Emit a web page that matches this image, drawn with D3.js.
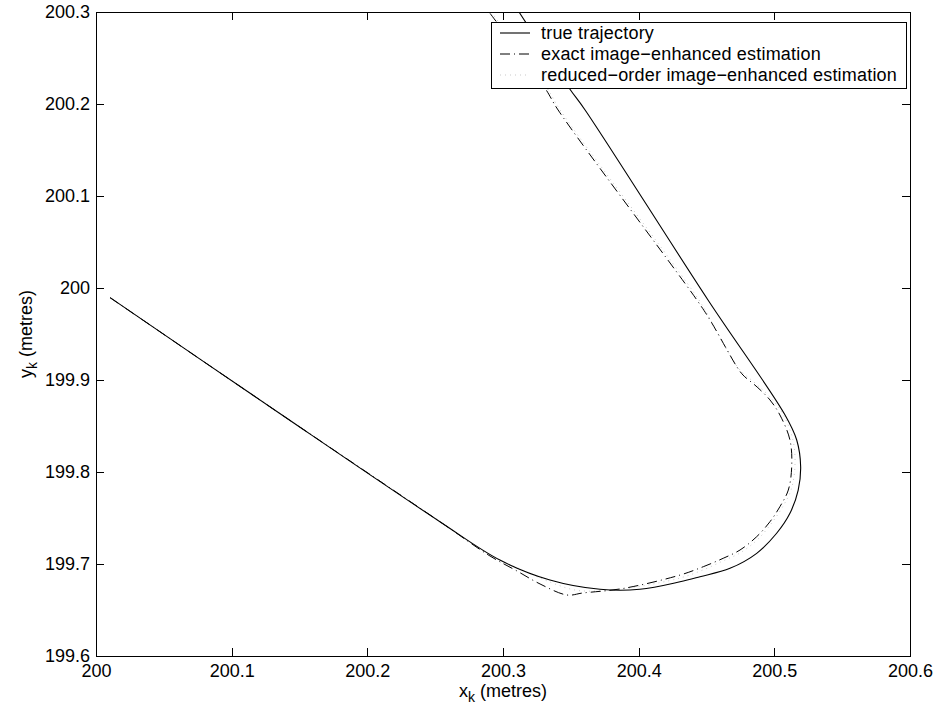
<!DOCTYPE html>
<html>
<head>
<meta charset="utf-8">
<script src="https://cdn.jsdelivr.net/npm/d3@7"></script>
<style>
  body { margin: 0; background: #fff; }
  text { font-family: "Liberation Sans", Arial, Helvetica, sans-serif; }
</style>
</head>
<body>
<div id="chart"></div>
<script>
// Data (metres)
const trueX = [200.0104, 200.1306, 200.2535, 200.2977, 200.3346, 200.3715, 200.4009, 200.4305, 200.4452,
  200.4673, 200.4870, 200.5017, 200.5115, 200.5176, 200.5194, 200.5165, 200.5079, 200.4511, 200.3605,
  200.3487, 200.3118];
const trueY = [199.9895, 199.8685, 199.7460, 199.7043, 199.6826, 199.6725, 199.6725, 199.6807, 199.6862,
  199.6953, 199.7116, 199.7334, 199.7551, 199.7804, 199.8058, 199.8348, 199.8620, 199.9870, 200.1935,
  200.2174, 200.3000];

const exactX = [200.0104, 200.1306, 200.2535, 200.2904, 200.3103, 200.3273, 200.3472, 200.3589, 200.3885,
  200.4305, 200.4477, 200.4623, 200.4747, 200.4870, 200.4968, 200.5041, 200.5103, 200.5128, 200.5115,
  200.5041, 200.4968, 200.4873, 200.4769, 200.4725, 200.4652, 200.4526, 200.4429, 200.3406, 200.3309,
  200.2897];
const exactY = [199.9895, 199.8685, 199.7460, 199.7087, 199.6924, 199.6783, 199.6663, 199.6685, 199.6734,
  199.6880, 199.6971, 199.7062, 199.7152, 199.7297, 199.7460, 199.7623, 199.7804, 199.8058, 199.8348,
  199.8620, 199.8783, 199.8924, 199.9054, 199.9141, 199.9326, 199.9652, 199.9870, 200.1935, 200.2174,
  200.3000];

const reducedX = [200.0104, 200.1306, 200.2535, 200.2904, 200.3125, 200.3346, 200.3531, 200.3715, 200.3936,
  200.4305, 200.4474, 200.4621, 200.4747, 200.4873, 200.4975, 200.5056, 200.5123, 200.5152, 200.5137,
  200.5063, 200.4968, 200.4858, 200.4747, 200.4659, 200.4540, 200.4444, 200.3421, 200.3324, 200.2911];
const reducedY = [199.9895, 199.8685, 199.7460, 199.7098, 199.6946, 199.6804, 199.6717, 199.6707, 199.6739,
  199.6848, 199.6935, 199.7033, 199.7120, 199.7261, 199.7435, 199.7609, 199.7804, 199.8065, 199.8348,
  199.8630, 199.8815, 199.8967, 199.9109, 199.9304, 199.9630, 199.9870, 200.1935, 200.2174, 200.3000];

const xTicks = [200, 200.1, 200.2, 200.3, 200.4, 200.5, 200.6];
const xTickLabels = ["200", "200.1", "200.2", "200.3", "200.4", "200.5", "200.6"];
const yTicks = [199.6, 199.7, 199.8, 199.9, 200, 200.1, 200.2, 200.3];
const yTickLabels = ["199.6", "199.7", "199.8", "199.9", "200", "200.1", "200.2", "200.3"];

const legendLabels = ["true trajectory", "exact image\u2212enhanced estimation", "reduced\u2212order image\u2212enhanced estimation"];

// Layout
const width = 935, height = 711;
const plotLeft = 96, plotTop = 12, plotRight = 910, plotBottom = 656;
const fontSize = 18;

const svg = d3.select("#chart").append("svg")
  .attr("width", width)
  .attr("height", height);

const x = d3.scaleLinear().domain([200, 200.6]).range([plotLeft, plotRight]);
const y = d3.scaleLinear().domain([199.6, 200.3]).range([plotBottom, plotTop]);

svg.append("clipPath").attr("id", "plot-clip")
  .append("rect")
  .attr("x", plotLeft).attr("y", plotTop)
  .attr("width", plotRight - plotLeft).attr("height", plotBottom - plotTop);

// Lines
const line = d3.line()
  .x(d => x(d[0]))
  .y(d => y(d[1]))
  .curve(d3.curveCatmullRom.alpha(0.5));

const series = [
  { pts: d3.zip(reducedX, reducedY), dash: "1,4", stroke: "#bbb", w: 0.8 },
  { pts: d3.zip(exactX, exactY), dash: "10,4,1,4", stroke: "#000", w: 1 },
  { pts: d3.zip(trueX, trueY), dash: null, stroke: "#000", w: 1.1 }
];

svg.append("g").attr("clip-path", "url(#plot-clip)")
  .selectAll("path")
  .data(series)
  .enter()
  .append("path")
  .attr("d", d => line(d.pts))
  .attr("fill", "none")
  .attr("stroke", d => d.stroke)
  .attr("stroke-width", d => d.w)
  .attr("stroke-dasharray", d => d.dash);

// Axes (inward ticks on all four sides)
const tickLen = 8;
function styleAxis(g) {
  g.select(".domain").remove();
  g.selectAll(".tick line").attr("stroke", "#000").attr("shape-rendering", "crispEdges");
  g.selectAll(".tick text").attr("fill", "#000").attr("font-size", fontSize);
}

svg.append("g")
  .attr("transform", `translate(0,${plotBottom})`)
  .call(d3.axisBottom(x).tickValues(xTicks).tickSize(-tickLen).tickPadding(8)
    .tickFormat((d, i) => xTickLabels[i]))
  .call(styleAxis);

svg.append("g")
  .attr("transform", `translate(0,${plotTop})`)
  .call(d3.axisTop(x).tickValues(xTicks).tickSize(-tickLen).tickFormat(""))
  .call(styleAxis);

svg.append("g")
  .attr("transform", `translate(${plotLeft},0)`)
  .call(d3.axisLeft(y).tickValues(yTicks).tickSize(-tickLen).tickPadding(6)
    .tickFormat((d, i) => yTickLabels[i]))
  .call(styleAxis);

svg.append("g")
  .attr("transform", `translate(${plotRight},0)`)
  .call(d3.axisRight(y).tickValues(yTicks).tickSize(-tickLen).tickFormat(""))
  .call(styleAxis);

// Box
svg.append("rect")
  .attr("x", plotLeft).attr("y", plotTop)
  .attr("width", plotRight - plotLeft).attr("height", plotBottom - plotTop)
  .attr("fill", "none")
  .attr("stroke", "#000")
  .attr("stroke-width", 1)
  .attr("shape-rendering", "crispEdges");

// Axis labels
const xl = svg.append("text")
  .attr("x", (plotLeft + plotRight) / 2)
  .attr("y", 697)
  .attr("text-anchor", "middle")
  .attr("font-size", fontSize);
xl.append("tspan").text("x");
xl.append("tspan").attr("dy", 5).attr("font-size", 14).text("k");
xl.append("tspan").attr("dy", -5).text(" (metres)");

const yl = svg.append("text")
  .attr("transform", `translate(32,${(plotTop + plotBottom) / 2}) rotate(-90)`)
  .attr("text-anchor", "middle")
  .attr("font-size", fontSize);
yl.append("tspan").text("y");
yl.append("tspan").attr("dy", 5).attr("font-size", 14).text("k");
yl.append("tspan").attr("dy", -5).text(" (metres)");

// Legend
const legend = svg.append("g");
legend.append("rect")
  .attr("x", 491).attr("y", 22)
  .attr("width", 415).attr("height", 66)
  .attr("fill", "#fff")
  .attr("stroke", "#000")
  .attr("stroke-width", 1)
  .attr("shape-rendering", "crispEdges");

const legendStyles = [series[2], series[1], series[0]];
const rows = legend.selectAll("g.row")
  .data(legendLabels)
  .enter()
  .append("g")
  .attr("class", "row")
  .attr("transform", (d, i) => `translate(0,${33 + i * 21})`);

rows.append("line")
  .attr("x1", 500).attr("x2", 530)
  .attr("y1", 0).attr("y2", 0)
  .attr("stroke", (d, i) => legendStyles[i].stroke)
  .attr("stroke-width", (d, i) => legendStyles[i].w)
  .attr("stroke-dasharray", (d, i) => legendStyles[i].dash);

rows.append("text")
  .attr("x", 541)
  .attr("y", 6)
  .attr("font-size", fontSize)
  .attr("letter-spacing", 0.2)
  .text(d => d);
</script>
</body>
</html>
